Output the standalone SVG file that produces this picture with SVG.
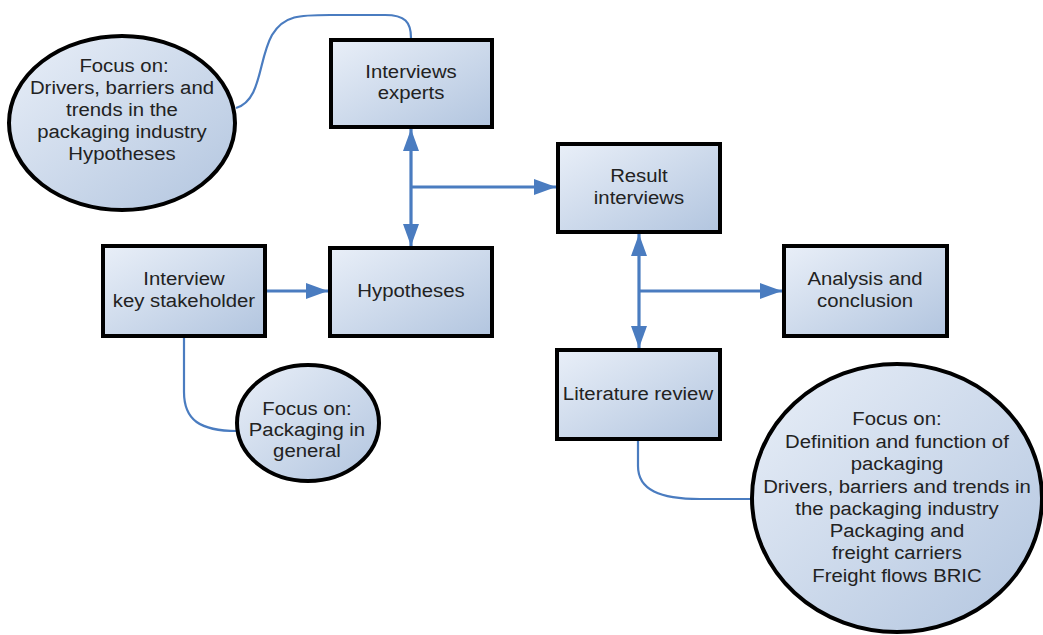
<svg xmlns="http://www.w3.org/2000/svg" width="1043" height="635" viewBox="0 0 1043 635">
<style>
.node{fill:url(#g);stroke:#000;stroke-width:4}
.t{font-family:"Liberation Sans",Arial,sans-serif;font-size:18px;fill:#222;text-anchor:middle;transform-box:fill-box;transform-origin:center;transform:scaleX(1.13)}
.c{fill:none;stroke:#4a7cc0;stroke-width:2.2}
.a{fill:none;stroke:#4a7cc0;stroke-width:3.2}
</style>
<defs>
<linearGradient id="g" x1="0" y1="0" x2="1" y2="1">
<stop offset="0" stop-color="#e9eff8"/>
<stop offset="1" stop-color="#b2c5df"/>
</linearGradient>
<marker id="ah" markerUnits="userSpaceOnUse" markerWidth="24" markerHeight="18" refX="22" refY="8" orient="auto-start-reverse" viewBox="0 0 24 16">
<path d="M0,0 L22,8 L0,16 Z" fill="#4a7cc0"/>
</marker>
</defs>
<rect width="1043" height="635" fill="#fff"/>
<g id="connectors">
<path class="c" d="M236,108 C262,100 258,60 272,35 C284,15 300,15 330,15 L385,15 C405,15 411,22 411,38"/>
<path class="c" d="M184,337 L184,392 C184,420 200,431 237,431"/>
<path class="c" d="M638,440 L638,466 C638,490 660,499 700,499 L751,499"/>
<line class="a" x1="411" y1="129" x2="411" y2="246" marker-start="url(#ah)" marker-end="url(#ah)"/>
<line class="a" x1="411" y1="187" x2="556" y2="187" marker-end="url(#ah)"/>
<line class="a" x1="267" y1="291" x2="328" y2="291" marker-end="url(#ah)"/>
<line class="a" x1="639" y1="234" x2="639" y2="348" marker-start="url(#ah)" marker-end="url(#ah)"/>
<line class="a" x1="639" y1="291" x2="782" y2="291" marker-end="url(#ah)"/>
</g>
<g id="focus1">
<ellipse class="node" cx="122" cy="123" rx="113" ry="87"/>
<text class="t" x="124" y="72">Focus on:</text>
<text class="t" x="122" y="94">Drivers, barriers and</text>
<text class="t" x="122" y="116">trends in the</text>
<text class="t" x="122" y="138">packaging industry</text>
<text class="t" x="122" y="160">Hypotheses</text>
</g>
<g id="experts">
<rect class="node" x="331" y="40" width="161" height="87"/>
<text class="t" x="411" y="78">Interviews</text>
<text class="t" x="411" y="99">experts</text>
</g>
<g id="result">
<rect class="node" x="558" y="144" width="162" height="88"/>
<text class="t" x="639" y="182">Result</text>
<text class="t" x="639" y="204">interviews</text>
</g>
<g id="stakeholder">
<rect class="node" x="103" y="246" width="162" height="90"/>
<text class="t" x="184" y="285">Interview</text>
<text class="t" x="184" y="307">key stakeholder</text>
</g>
<g id="hypotheses">
<rect class="node" x="330" y="248" width="162" height="88"/>
<text class="t" x="411" y="297">Hypotheses</text>
</g>
<g id="analysis">
<rect class="node" x="784" y="246" width="163" height="90"/>
<text class="t" x="865" y="285">Analysis and</text>
<text class="t" x="865" y="307">conclusion</text>
</g>
<g id="literature">
<rect class="node" x="557" y="350" width="163" height="89"/>
<text class="t" x="638" y="400">Literature review</text>
</g>
<g id="focus2">
<ellipse class="node" cx="308" cy="423" rx="71" ry="58"/>
<text class="t" x="307" y="415">Focus on:</text>
<text class="t" x="307" y="436">Packaging in</text>
<text class="t" x="307" y="457">general</text>
</g>
<g id="focus3">
<ellipse class="node" cx="897" cy="498" rx="145" ry="134"/>
<text class="t" x="897" y="425">Focus on:</text>
<text class="t" x="897" y="448">Definition and function of</text>
<text class="t" x="897" y="470">packaging</text>
<text class="t" x="897" y="493">Drivers, barriers and trends in</text>
<text class="t" x="897" y="515">the packaging industry</text>
<text class="t" x="897" y="537">Packaging and</text>
<text class="t" x="897" y="559">freight carriers</text>
<text class="t" x="897" y="582">Freight flows BRIC</text>
</g>
</svg>
